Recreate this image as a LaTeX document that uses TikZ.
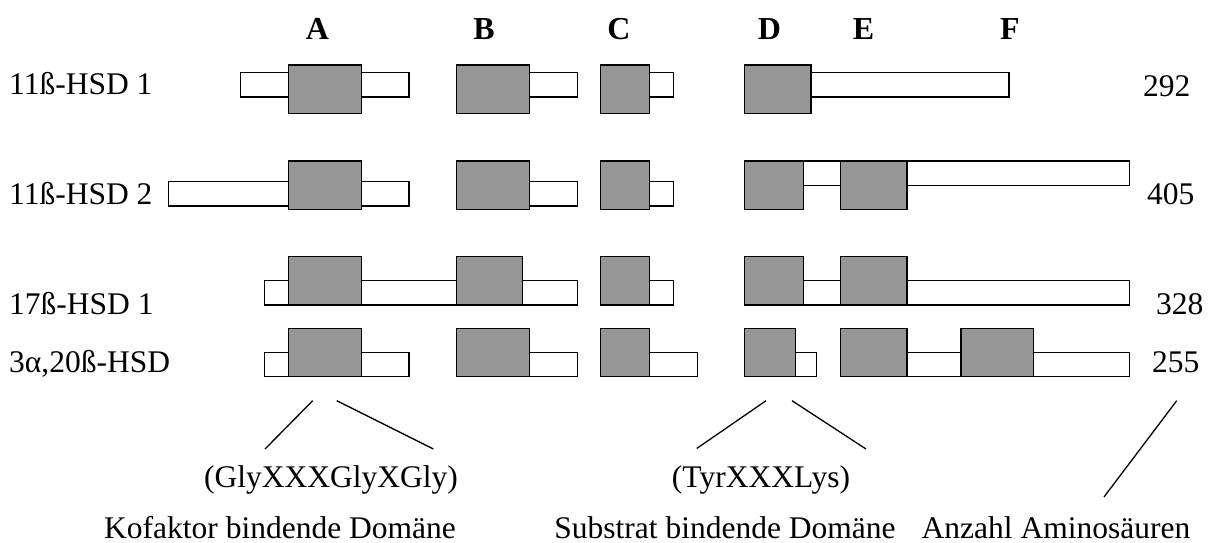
\documentclass[tikz,border=0pt]{standalone}
\usepackage{fontspec}
\setmainfont{Liberation Serif}
\definecolor{domaingray}{RGB}{150,150,150}
\tikzset{
  seg/.style={draw=black, fill=white, line width=1.5pt},
  dom/.style={draw=black, fill=domaingray, line width=1.5pt},
  lbl/.style={anchor=base west, inner sep=0pt, font=\fontsize{31.5}{36}\selectfont},
  hdr/.style={anchor=base, inner sep=0pt, font=\fontsize{32}{38}\selectfont\bfseries},
  note/.style={anchor=base, inner sep=0pt, font=\fontsize{31.5}{36}\selectfont},
  pointer/.style={line width=1.3pt},
}
\begin{document}
\begin{tikzpicture}[x=1pt,y=-1pt]
\useasboundingbox (0,0) rectangle (1229,543);

% motif column headers
\node[hdr] (hA) at (317.5,39.5) {A};
\node[hdr] (hB) at (484,39.5) {B};
\node[hdr] (hC) at (619,39.5) {C};
\node[hdr] (hD) at (769.5,39.5) {D};
\node[hdr] (hE) at (863.5,39.5) {E};
\node[hdr] (hF) at (1010,39.5) {F};

% enzyme names
\node[lbl] (n1) at (9,95) {11ß-HSD 1};
\node[lbl] (n2) at (9,204) {11ß-HSD 2};
\node[lbl] (n3) at (9,314) {17ß-HSD 1};
\node[lbl] (n4) at (9,372) {3α,20ß-HSD};

% chain lengths
\node[lbl] (l1) at (1143,96) {292};
\node[lbl] (l2) at (1147,204) {405};
\node[lbl] (l3) at (1156,314) {328};
\node[lbl] (l4) at (1152,372.5) {255};

% 11ß-HSD 1
\draw[seg] (240.7,72.3) rectangle (409,97);
\draw[dom] (288.7,65) rectangle (361.3,113.7);
\draw[seg] (500,72.3) rectangle (577.3,97);
\draw[dom] (456.7,65) rectangle (529.3,113.7);
\draw[seg] (630,72.3) rectangle (673.3,97);
\draw[dom] (600.7,65) rectangle (649.3,113.7);
\draw[seg] (780,72.3) rectangle (1009,97);
\draw[dom] (744.3,65) rectangle (811,113.7);

% 11ß-HSD 2
\draw[seg] (168.3,181.7) rectangle (409,206);
\draw[dom] (288.7,161) rectangle (361.3,209.7);
\draw[seg] (500,181.7) rectangle (577.3,206);
\draw[dom] (456.7,161) rectangle (529.3,209.7);
\draw[seg] (630,181.7) rectangle (673.3,206);
\draw[dom] (600.7,161) rectangle (649.3,209.7);
\draw[seg] (780,161) rectangle (1129.3,185.3);
\draw[dom] (744.3,161) rectangle (803.3,209.7);
\draw[dom] (840.7,161) rectangle (907,209.7);

% 17ß-HSD 1
\draw[seg] (264.5,280.5) rectangle (577.3,305);
\draw[dom] (288.7,256.3) rectangle (361.3,305);
\draw[dom] (456.7,256.3) rectangle (522.7,305);
\draw[seg] (630,280.5) rectangle (673.3,305);
\draw[dom] (600.7,256.3) rectangle (649.3,305);
\draw[seg] (780,280.5) rectangle (1129.3,305);
\draw[dom] (744.3,256.3) rectangle (803.3,305);
\draw[dom] (840.7,256.3) rectangle (907,305);

% 3α,20ß-HSD
\draw[seg] (264.3,352.3) rectangle (409,376.7);
\draw[dom] (288.7,328.5) rectangle (361.3,376.7);
\draw[seg] (500,352.3) rectangle (577.3,376.7);
\draw[dom] (456.7,328.5) rectangle (529.3,376.7);
\draw[seg] (630,352.3) rectangle (697.3,376.7);
\draw[dom] (600.7,328.5) rectangle (649.3,376.7);
\draw[seg] (770,352.3) rectangle (816.6,376.7);
\draw[dom] (744.4,328.5) rectangle (795.7,376.7);
\draw[seg] (870,352.3) rectangle (1129.3,376.7);
\draw[dom] (840.7,328.5) rectangle (906.9,376.7);
\draw[dom] (961,328.5) rectangle (1033.3,376.7);

% motif annotations
\node[note] (gly) at (331,487) {(GlyXXXGlyXGly)};
\node[note] (tyr) at (761,487) {(TyrXXXLys)};
\node[note] (kof) at (280,538.5) {Kofaktor bindende Domäne};
\node[note] (sub) at (725,538.5) {Substrat bindende Domäne};
\node[note] (anz) at (1056,538.5) {Anzahl Aminosäuren};

% pointer lines
\coordinate (kA) at (312.7,400.7);
\coordinate (kB) at (265,449);
\coordinate (kC) at (336.7,400.7);
\coordinate (kD) at (433.3,449);
\coordinate (sA) at (766,400.7);
\coordinate (sB) at (696.7,448.5);
\coordinate (sC) at (792,400.7);
\coordinate (sD) at (866,449);
\coordinate (aA) at (1176.7,400.7);
\coordinate (aB) at (1104,497);
\draw[pointer] (kA) -- (kB);
\draw[pointer] (kC) -- (kD);
\draw[pointer] (sA) -- (sB);
\draw[pointer] (sC) -- (sD);
\draw[pointer] (aA) -- (aB);
\end{tikzpicture}
\end{document}
